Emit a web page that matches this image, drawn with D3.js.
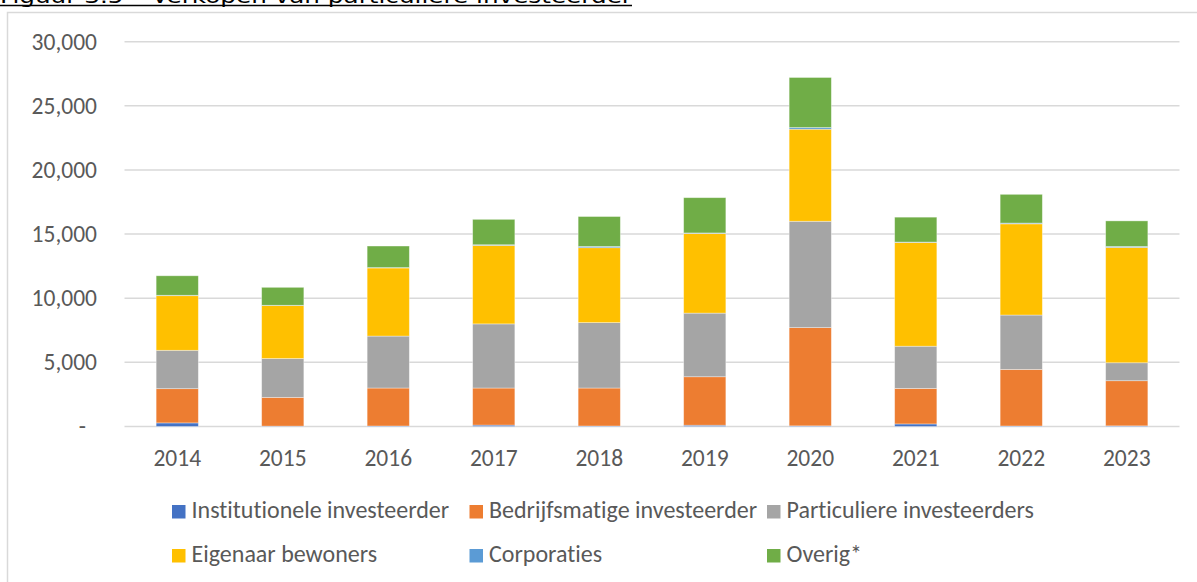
<!DOCTYPE html>
<html>
<head>
<meta charset="utf-8">
<script src="https://cdn.jsdelivr.net/npm/d3@7"></script>
<style>
  body { margin: 0; background: #fff; }
  svg { display: block; }
  text { font-family: Carlito, Calibri, "Open Sans", sans-serif; fill: #595959; font-variant-ligatures: none; }
</style>
</head>
<body>
<svg id="chart"></svg>
<script>
// jaren
var years = ["2014", "2015", "2016", "2017", "2018", "2019", "2020", "2021", "2022", "2023"];
// verkopen per type koper
var institutioneel = [280, 30, 40, 110, 40, 100, 50, 200, 40, 50];
var bedrijfsmatig = [2670, 2240, 2960, 2890, 2960, 3780, 7660, 2770, 4410, 3520];
var particulier = [2990, 3030, 4050, 5000, 5100, 4960, 8290, 3290, 4240, 1400];
var eigenaar = [4260, 4130, 5310, 6120, 5840, 6210, 7180, 8090, 7110, 8990];
var corporaties = [30, 20, 30, 50, 100, 40, 130, 30, 60, 80];
var overig = [1520, 1400, 1680, 1980, 2330, 2750, 3900, 1940, 2240, 1990];
// y-as
var yTicks = [0, 5000, 10000, 15000, 20000, 25000, 30000];

var seriesNames = ["Institutionele investeerder", "Bedrijfsmatige investeerder", "Particuliere investeerders",
    "Eigenaar bewoners", "Corporaties", "Overig*"];
var seriesValues = [institutioneel, bedrijfsmatig, particulier, eigenaar, corporaties, overig];
var colors = ["#4472C4", "#ED7D31", "#A5A5A5", "#FFC000", "#5B9BD5", "#70AD47"];

var W = 1197, H = 582;

var svg = d3.select("#chart").attr("width", W).attr("height", H);

// tabel voor d3.stack
var table = years.map(function (y, i) {
    var row = { year: y };
    seriesNames.forEach(function (s, k) { row[s] = seriesValues[k][i]; });
    return row;
});
var stacked = d3.stack().keys(seriesNames)(table);

//titel (valt grotendeels buiten beeld)
svg.append("text")
    .attr("x", 0).attr("y", 3)
    .attr("textLength", 632).attr("lengthAdjust", "spacingAndGlyphs")
    .style("font-family", "'DejaVu Sans', Verdana, sans-serif")
    .style("font-size", "20px")
    .style("fill", "#000")
    .text("Figuur 3.5 \u2013 Verkopen van particuliere investeerder");
svg.append("line")
    .attr("x1", 0).attr("x2", 632).attr("y1", 5.5).attr("y2", 5.5)
    .attr("stroke", "#000").attr("stroke-width", 1.5);

//kader
svg.append("rect")
    .attr("x", 7.5).attr("y", 12.5).attr("width", 1400).attr("height", 800)
    .attr("fill", "none").attr("stroke", "#d9d9d9").attr("stroke-width", 1.5);

var x = d3.scaleBand().domain(years).range([124.5, 1179.5]).padding(0);
var y = d3.scaleLinear().domain([0, 30000]).range([426.5, 41.7]);
var barW = x.step() / 2.5;

//rasterlijnen
svg.append("g").selectAll("line").data(yTicks).enter().append("line")
    .attr("x1", 124.5).attr("x2", 1179.5)
    .attr("y1", function (d) { return y(d); })
    .attr("y2", function (d) { return y(d); })
    .attr("stroke", "#d9d9d9").attr("stroke-width", 1.5);

//y-as labels
var fmt = d3.format(",");
svg.append("g").selectAll("text").data(yTicks).enter().append("text")
    .attr("x", function (d) { return d === 0 ? 86 : 97; })
    .attr("y", function (d) { return y(d); })
    .attr("dy", "0.34em")
    .attr("text-anchor", "end")
    .style("font-size", "23.5px")
    .text(function (d) { return d === 0 ? "-" : fmt(d); });

//staven
svg.append("g").selectAll("g").data(stacked).enter().append("g")
    .attr("fill", function (d, i) { return colors[i]; })
    .selectAll("rect").data(function (d) { return d; }).enter().append("rect")
    .attr("x", function (d) { return x(d.data.year) + x.bandwidth() / 2 - barW / 2; })
    .attr("width", barW)
    .attr("y", function (d) { return y(d[1]); })
    .attr("height", function (d) { return y(d[0]) - y(d[1]); })
    .attr("stroke", "#fff").attr("stroke-opacity", 0.45).attr("stroke-width", 0.8);

//x-as labels
svg.append("g").selectAll("text").data(years).enter().append("text")
    .attr("x", function (d) { return x(d) + x.bandwidth() / 2; })
    .attr("y", 466)
    .attr("text-anchor", "middle")
    .style("font-size", "23.5px")
    .text(function (d) { return d; });

//legenda
var legend = svg.append("g").selectAll("g").data(seriesNames).enter().append("g")
    .attr("transform", function (d, i) {
        return "translate(" + (172 + (i % 3) * 297.5) + "," + (i < 3 ? 505 : 549) + ")";
    });
legend.append("rect")
    .attr("width", 13.5).attr("height", 13.5)
    .attr("fill", function (d, i) { return colors[i]; });
legend.append("text")
    .attr("x", 19.5).attr("y", 13.3)
    .style("font-size", "24px")
    .text(function (d) { return d; });
</script>
</body>
</html>
